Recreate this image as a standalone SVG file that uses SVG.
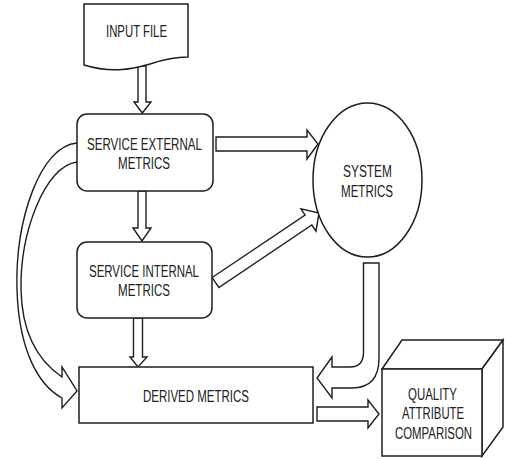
<svg xmlns="http://www.w3.org/2000/svg" width="506" height="459" viewBox="0 0 506 459">
  <style>
    .shape { fill: #ffffff; stroke: #1e1e1e; stroke-width: 1.5; stroke-linejoin: miter; }
    .arrow { fill: #ffffff; stroke: #1e1e1e; stroke-width: 1.4; stroke-linejoin: miter; }
    .line { fill: none; stroke: #1e1e1e; stroke-width: 1.5; }
    .label { font-family: "Liberation Sans Narrow", "Liberation Sans", Arial, sans-serif; font-size: 16px; fill: #222222; lengthAdjust: spacingAndGlyphs; }
  </style>
  <rect width="506" height="459" fill="#ffffff"/>

  <!-- connectors (block arrows) -->
  <g id="connectors">
    <!-- input file -> service external -->
    <polygon class="arrow" points="138,66 146,66 146,102 151,102 142.3,113 134,102 138,102"/>
    <!-- service external -> service internal -->
    <polygon class="arrow" points="138,191 146,191 146,228 151,228 142,241 133,228 138,228"/>
    <!-- service internal -> derived -->
    <polygon class="arrow" points="133.5,318 142.5,318 142.5,357 147,357 138,367 130,357 133.5,357"/>
    <!-- service external -> system -->
    <polygon class="arrow" points="216,137 307,137 307,130 318,144 307,159 307,151 216,151"/>
    <!-- service internal -> system -->
    <polygon class="arrow" transform="translate(215.5,282.5) rotate(-33.9)" points="0,-6 112,-6 112,-13.5 124.7,0 112,13.5 112,6 0,6"/>
    <!-- system -> derived (bent) -->
    <path class="arrow" d="M363.5,263 L379,263 L379,358 Q379,388 352,388 L332,388 L332,398 L317,378 L332,357 L332,367 L350,367 Q363.5,367 363.5,352 Z"/>
    <!-- derived -> quality comparison -->
    <polygon class="arrow" points="317,407 368,407 368,400 379,414 368,428 368,421 317,421"/>
    <!-- service external -> derived (curved) -->
    <path class="arrow" d="M77,143 C40,146 15,220 17,290 C19,350 38,385 62,398 L62,408 L77,391 L62,367 L62,377 C40,362 22,335 21,290 C20,232 45,166 77,162"/>
  </g>

  <!-- input file document -->
  <g id="input-file">
    <path class="shape" d="M84,4 H188 V57 C178,57 165,59 150,64 C130,70 110,73 84,65 Z"/>
    <text class="label" x="106" y="37" textLength="61" lengthAdjust="spacingAndGlyphs">INPUT FILE</text>
  </g>

  <!-- service external metrics -->
  <g id="service-external">
    <rect class="shape" x="77" y="114" width="136" height="77" rx="10" ry="10"/>
    <text class="label" x="87" y="150" textLength="115" lengthAdjust="spacingAndGlyphs">SERVICE EXTERNAL</text>
    <text class="label" x="118" y="169" textLength="52" lengthAdjust="spacingAndGlyphs">METRICS</text>
  </g>

  <!-- service internal metrics -->
  <g id="service-internal">
    <rect class="shape" x="77" y="242" width="135" height="76" rx="10" ry="10"/>
    <text class="label" x="89" y="277" textLength="110" lengthAdjust="spacingAndGlyphs">SERVICE INTERNAL</text>
    <text class="label" x="118" y="296" textLength="52" lengthAdjust="spacingAndGlyphs">METRICS</text>
  </g>

  <!-- system metrics -->
  <g id="system-metrics">
    <ellipse class="shape" cx="367.5" cy="180" rx="54.5" ry="77"/>
    <text class="label" x="343" y="177" textLength="49" lengthAdjust="spacingAndGlyphs">SYSTEM</text>
    <text class="label" x="341" y="197" textLength="52" lengthAdjust="spacingAndGlyphs">METRICS</text>
  </g>

  <!-- derived metrics -->
  <g id="derived-metrics">
    <rect class="shape" x="79" y="367" width="234" height="56"/>
    <text class="label" x="143" y="402" textLength="106" lengthAdjust="spacingAndGlyphs">DERIVED METRICS</text>
  </g>

  <!-- quality attribute comparison (cube) -->
  <g id="quality-comparison">
    <polygon class="shape" points="382,369 402,340 503,340 482,369"/>
    <polygon class="shape" points="482,369 503,340 503,427 482,456"/>
    <rect class="shape" x="382" y="369" width="100" height="87"/>
    <text class="label" x="408" y="400" textLength="49" lengthAdjust="spacingAndGlyphs">QUALITY</text>
    <text class="label" x="402" y="419" textLength="62" lengthAdjust="spacingAndGlyphs">ATTRIBUTE</text>
    <text class="label" x="395" y="439" textLength="77" lengthAdjust="spacingAndGlyphs">COMPARISON</text>
  </g>
</svg>
